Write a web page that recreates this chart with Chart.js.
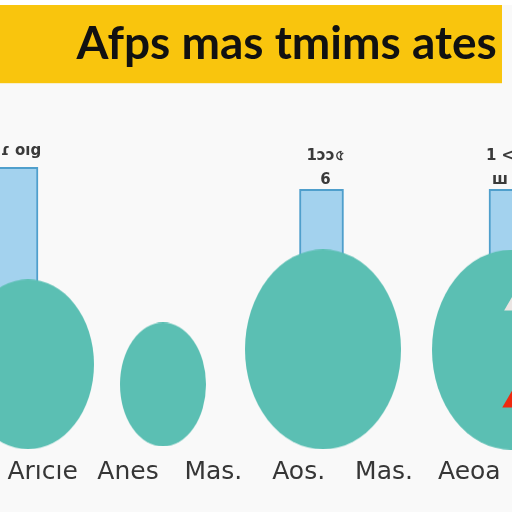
<!DOCTYPE html>
<html>
<head>
<meta charset="utf-8">
<script src="https://cdn.jsdelivr.net/npm/chart.js@4/dist/chart.umd.min.js"></script>
<style>
  html, body { margin: 0; padding: 0; background: #f9f9f9; }
  #wrap { width: 512px; height: 512px; }
</style>
</head>
<body>
<div id="wrap"><canvas id="chart" width="512" height="512"></canvas></div>
<script>
// categories along the bottom
const categories = ["Arıcıe", "Anes", "Mas.", "Aos.", "Mas.", "Aeoa"];

// bars (x position in axis units, base and top)
const barX = [16, 321.5, 511];
const barBase = [40, 40, 40];
const barValues = [77.5, 71.6, 71.6];
const barLabels = [["ɾ oıg"], ["1ɔɔ৫", "6"], ["1 <", "ш"]];

// bubbles (x, y centre, horizontal and vertical radius)
const bubbleX = [28, 163, 323, 511];
const bubbleY = [24.8, 19.4, 28.8, 28.7];
const bubbleRx = [66, 43, 78, 79];
const bubbleRy = [85, 62, 100, 100];

// marks inside the last bubble
const markX = [517, 518];
const markY = [15.5, 41.3];

const teal = "#5bbfb3";

function ellipseCanvas(rx, ry, color) {
  const c = document.createElement("canvas");
  c.width = rx * 2;
  c.height = ry * 2;
  const g = c.getContext("2d");
  g.fillStyle = color;
  g.beginPath();
  g.ellipse(rx, ry, rx, ry, 0, 0, Math.PI * 2);
  g.fill();
  return c;
}

const titleBand = {
  id: "titleBand",
  beforeDraw(chart) {
    const t = chart.titleBlock;
    const ctx = chart.ctx;
    ctx.save();
    ctx.fillStyle = "#fff";
    ctx.fillRect(0, 0, chart.width, t.top);
    ctx.fillStyle = "#f9c50d";
    ctx.fillRect(0, t.top, chart.width - 10, t.bottom - t.top);
    ctx.restore();
  },
};

const labelShift = [5, 4, -11];

const barText = {
  id: "barText",
  afterDatasetsDraw(chart) {
    const meta = chart.getDatasetMeta(0);
    const ctx = chart.ctx;
    ctx.save();
    ctx.font = "bold 15px 'DejaVu Sans'";
    ctx.fillStyle = "#3a3a3a";
    ctx.textAlign = "center";
    ctx.textBaseline = "bottom";
    meta.data.forEach((bar, i) => {
      const lines = barLabels[i];
      lines.forEach((txt, j) => {
        const y = lines.length > 1 ? bar.y - 2 - (lines.length - 1 - j) * 24 : bar.y - 9;
        ctx.fillText(txt, bar.x + labelShift[i], y);
      });
    });
    ctx.restore();
  },
};

new Chart(document.getElementById("chart"), {
  data: {
    labels: categories,
    datasets: [
      {
        type: "bar",
        data: barX.map((x, i) => ({ x, y: [barBase[i], barValues[i]] })),
        backgroundColor: "#a3d2ee",
        borderColor: "#4f9fcc",
        borderWidth: 2,
        borderSkipped: "bottom",
        barThickness: 44,
        order: 3,
      },
      {
        type: "bubble",
        data: bubbleX.map((x, i) => ({ x, y: bubbleY[i], r: bubbleRx[i] })),
        pointStyle: (ctx) =>
          ellipseCanvas(bubbleRx[ctx.dataIndex], bubbleRy[ctx.dataIndex], teal),
        backgroundColor: teal,
        order: 2,
      },
      {
        type: "scatter",
        data: markX.map((x, i) => ({ x, y: markY[i] })),
        pointStyle: "triangle",
        pointRadius: [17, 16],
        backgroundColor: ["#ee2a10", "#ebe5e3"],
        borderWidth: 0,
        order: 1,
      },
    ],
  },
  options: {
    responsive: false,
    animation: false,
    layout: { padding: { top: 5, bottom: 25 }, autoPadding: false },
    plugins: {
      legend: { display: false },
      tooltip: { enabled: false },
      title: {
        display: true,
        text: "Afps mas tmims ates\u2004",
        align: "end",
        color: "#111",
        font: { family: "Lato", size: 46, weight: "bold" },
        padding: { top: 12, bottom: 11 },
      },
    },
    scales: {
      x: {
        type: "linear",
        min: 0,
        max: 512,
        offset: false,
        display: false,
      },
      x2: {
        type: "category",
        position: "bottom",
        labels: categories,
        offset: true,
        grid: { display: false, drawTicks: false },
        border: { display: false },
        ticks: {
          color: "#363636",
          font: { family: "'DejaVu Sans'", size: 25 },
          padding: 0,
          maxRotation: 0,
          autoSkip: false,
        },
      },
      y: {
        min: 0,
        max: 100,
        display: false,
      },
    },
  },
  plugins: [titleBand, barText],
});
</script>
</body>
</html>
